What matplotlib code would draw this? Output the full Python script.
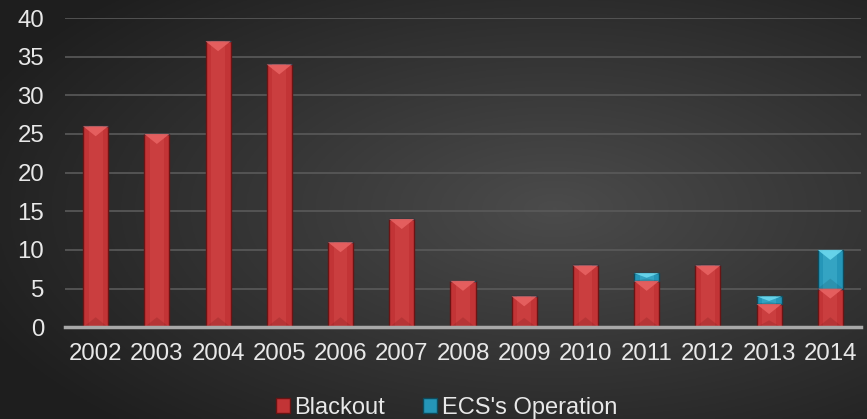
import numpy as np
import matplotlib
matplotlib.use("Agg")
import matplotlib.pyplot as plt
from matplotlib.patches import Polygon, Patch

years = ["2002", "2003", "2004", "2005", "2006", "2007", "2008",
         "2009", "2010", "2011", "2012", "2013", "2014"]
blackout = [26, 25, 37, 34, 11, 14, 6, 4, 8, 6, 8, 3, 5]
ecs_operation = [0, 0, 0, 0, 0, 0, 0, 0, 0, 1, 0, 1, 5]

plt.rcParams['font.family'] = ['Liberation Sans', 'DejaVu Sans']

fig = plt.figure(figsize=(8.67, 4.19), dpi=100)

# dark radial gradient background
bg = fig.add_axes([0, 0, 1, 1], zorder=-10)
gx, gy = np.meshgrid(np.linspace(0, 1, 400), np.linspace(0, 1, 200))
d = np.sqrt(((gx - 0.64) / 0.9) ** 2 + ((gy - 0.5) / 0.9) ** 2)
shade = np.clip(0.295 - 0.22 * d, 0.12, 0.3)
bg.imshow(np.dstack([shade] * 3), aspect="auto", extent=[0, 1, 0, 1])
bg.axis("off")

ax = fig.add_axes([0.075, 0.219, 0.918, 0.738])
ax.set_facecolor("none")
x = np.arange(len(years))
w = 0.41

def bevel_bars(bottoms, heights, base, light, dark):
    bars = ax.bar(x, heights, w, bottom=bottoms, color=base,
                  edgecolor=dark, linewidth=1.0, zorder=3)
    px = 40 / ax.get_window_extent().height
    for b in bars:
        h = b.get_height()
        if h <= 0:
            continue
        x0, y0, bw = b.get_x(), b.get_y(), b.get_width()
        # soft lighter core
        ax.bar(x0 + bw / 2, h, bw * 0.55, bottom=y0, color=light,
               alpha=0.22, linewidth=0, zorder=4)
        th = min(10 * px, h * 0.6)
        top = y0 + h
        ax.add_patch(Polygon([[x0, top], [x0 + bw, top], [x0 + bw / 2, top - th]],
                             closed=True, facecolor=light, alpha=0.9,
                             edgecolor="none", zorder=5))
        ax.add_patch(Polygon([[x0, y0], [x0 + bw, y0], [x0 + bw / 2, y0 + min(th, h * 0.3)]],
                             closed=True, facecolor=dark, alpha=0.2,
                             edgecolor="none", zorder=5))

bevel_bars(np.zeros(len(years)), blackout, "#c23436", "#e86262", "#6a1414")
bevel_bars(np.array(blackout), ecs_operation, "#2596b8", "#6bd8ee", "#0d4c5e")

ax.set_ylim(0, 40)
ax.set_xlim(-0.5, len(years) - 0.5)
ax.set_yticks(range(0, 41, 5))
ax.set_xticks(x)
ax.set_xticklabels(years)
ax.yaxis.grid(True, color="#5a5a5a", linewidth=1.2, zorder=0)
ax.set_axisbelow(True)
for s in ["top", "right", "left"]:
    ax.spines[s].set_visible(False)
ax.spines["bottom"].set_color("#a8a8a8")
ax.spines["bottom"].set_linewidth(2.5)
ax.spines["bottom"].set_zorder(6)
ax.tick_params(axis="both", length=0, labelsize=17.3, colors="#e8e8e8")
ax.tick_params(axis="y", pad=15)
ax.tick_params(axis="x", pad=11)

handles = [Patch(facecolor="#c23436", edgecolor="#6a1414", label="Blackout"),
           Patch(facecolor="#2596b8", edgecolor="#0d4c5e", label="ECS's Operation")]
fig.legend(handles=handles, loc="lower center", bbox_to_anchor=(0.515, -0.05),
           ncol=2, frameon=False, fontsize=17, labelcolor="#e8e8e8",
           handlelength=0.6, handleheight=0.6, handletextpad=0.2, columnspacing=1.6)

fig.savefig("out.png", dpi=100)
